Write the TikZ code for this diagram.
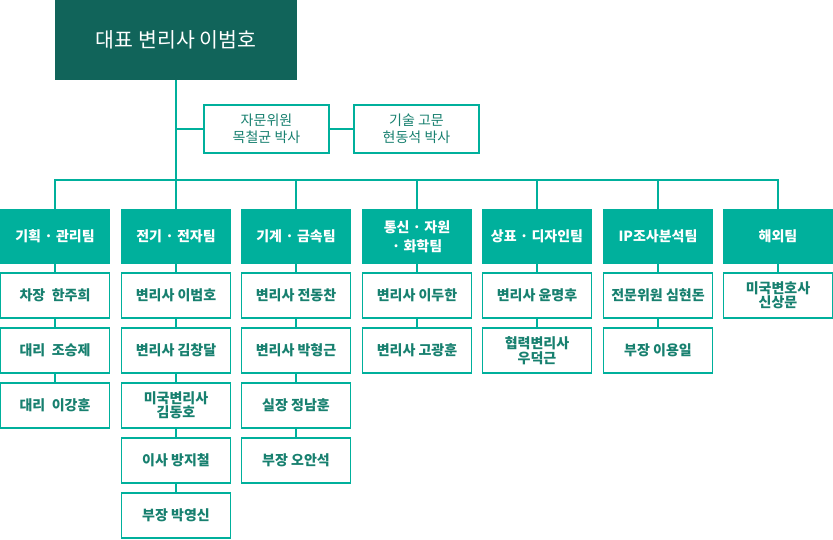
\documentclass[tikz,border=0pt]{standalone}
\usepackage{fontspec}
\newfontfamily\kr{Noto Sans CJK KR}
\definecolor{darkteal}{HTML}{11645A}
\definecolor{teal1}{HTML}{00B09C}
\definecolor{txt}{HTML}{17806F}
\begin{document}
\begin{tikzpicture}[x=1pt,y=-1pt,
  every node/.style={font=\kr, inner sep=0pt, align=center},
  topbox/.style={fill=darkteal, text=white, minimum width=242, minimum height=80, font=\kr\fontsize{20.5}{24}\selectfont},
  advbox/.style={draw=teal1, line width=1.3pt, fill=white, text=txt, minimum width=125, minimum height=48, font=\kr\fontsize{14}{17}\selectfont},
  headbox/.style={fill=teal1, text=white, minimum width=110, minimum height=55, font=\kr\bfseries\fontsize{14}{18.5}\selectfont},
  membox/.style={draw=teal1, line width=1.3pt, fill=white, text=txt, minimum width=109, minimum height=45, font=\kr\bfseries\fontsize{14}{14.5}\selectfont},
  conn/.style={draw=teal1, line width=1.2pt}
]
\useasboundingbox (0,0) rectangle (833,539);
% top
\node[topbox] (top) at (176,40) {대표 변리사 이범호};
\node[advbox] (adv1) at (266.5,129) {자문위원\\목철균 박사};
\node[advbox] (adv2) at (416.5,129) {기술 고문\\현동석 박사};
\coordinate (bar) at (0,180);
\coordinate (advj) at (176,129);
% headers
\node[headbox] (h1) at (55,236.5) {기획 · 관리팀};
\node[headbox] (h2) at (176,236.5) {전기 · 전자팀};
\node[headbox] (h3) at (296,236.5) {기계 · 금속팀};
\node[headbox] (h4) at (417,236.5) {통신 · 자원\\· 화학팀};
\node[headbox] (h5) at (537,236.5) {상표 · 디자인팀};
\node[headbox] (h6) at (658,236.5) {IP조사분석팀};
\node[headbox] (h7) at (778,236.5) {해외팀};
% members
\node[membox] (m11) at (55,295.5) {차장\ \ 한주희};
\node[membox] (m12) at (55,350.5) {대리\ \ 조승제};
\node[membox] (m13) at (55,405.5) {대리\ \ 이강훈};
\node[membox] (m21) at (176,295.5) {변리사 이범호};
\node[membox] (m22) at (176,350.5) {변리사 김창달};
\node[membox] (m23) at (176,405.5) {미국변리사\\김동호};
\node[membox] (m24) at (176,460.5) {이사 방지철};
\node[membox] (m25) at (176,515.5) {부장 박영신};
\node[membox] (m31) at (296,295.5) {변리사 전동찬};
\node[membox] (m32) at (296,350.5) {변리사 박형근};
\node[membox] (m33) at (296,405.5) {실장 정남훈};
\node[membox] (m34) at (296,460.5) {부장 오안석};
\node[membox] (m41) at (417,295.5) {변리사 이두한};
\node[membox] (m42) at (417,350.5) {변리사 고광훈};
\node[membox] (m51) at (537,295.5) {변리사 윤명후};
\node[membox] (m52) at (537,350.5) {협력변리사\\우덕근};
\node[membox] (m61) at (658,295.5) {전문위원 심현돈};
\node[membox] (m62) at (658,350.5) {부장 이용일};
\node[membox] (m71) at (778,295.5) {미국변호사\\신상문};
% connectors
\draw[conn] (top.south) -- (top.south |- bar);
\draw[conn] (advj) -- (adv1.west);
\draw[conn] (adv1.east) -- (adv2.west);
\draw[conn] (h1.north) -- (h1.north |- bar) -- (h7.north |- bar) -- (h7.north);
\foreach \h in {h2,h3,h4,h5,h6} \draw[conn] (\h.north) -- (\h.north |- bar);
\draw[conn] (h1) -- (m11); \draw[conn] (m11) -- (m12); \draw[conn] (m12) -- (m13);
\draw[conn] (h2) -- (m21); \draw[conn] (m21) -- (m22); \draw[conn] (m22) -- (m23); \draw[conn] (m23) -- (m24); \draw[conn] (m24) -- (m25);
\draw[conn] (h3) -- (m31); \draw[conn] (m31) -- (m32); \draw[conn] (m32) -- (m33); \draw[conn] (m33) -- (m34);
\draw[conn] (h4) -- (m41); \draw[conn] (m41) -- (m42);
\draw[conn] (h5) -- (m51); \draw[conn] (m51) -- (m52);
\draw[conn] (h6) -- (m61); \draw[conn] (m61) -- (m62);
\draw[conn] (h7) -- (m71);
\end{tikzpicture}
\end{document}
